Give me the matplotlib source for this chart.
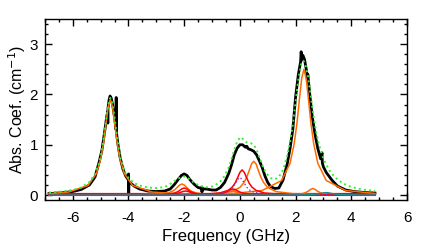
#!/usr/bin/env python
"""
Absorption spectrum with Lorentzian fit components
"""
import matplotlib
matplotlib.use('Agg')
import matplotlib.pyplot as plt
from matplotlib.ticker import MultipleLocator

# ---- measured spectrum (black) ----
black_x = [-6.85, -6.4, -6.0, -5.7, -5.4, -5.2, -5.05, -4.95, -4.85, -4.78,
           -4.745, -4.74, -4.735, -4.7, -4.66, -4.62, -4.57, -4.5, -4.445, -4.44,
           -4.435, -4.43, -4.38, -4.3, -4.2, -4.1, -4.0, -3.995, -3.99, -3.985,
           -3.8, -3.6, -3.3, -3.0, -2.7, -2.5, -2.35, -2.2, -2.1, -2.0,
           -1.9, -1.8, -1.65, -1.5, -1.37, -1.365, -1.36, -1.355, -1.2, -1.0,
           -0.85, -0.7, -0.55, -0.4, -0.3, -0.2, -0.1, 0.0, 0.1, 0.2,
           0.25, 0.3, 0.4, 0.5, 0.6, 0.7, 0.8, 0.9, 1.0, 1.1,
           1.25, 1.4, 1.55, 1.7, 1.8, 1.9, 2.0, 2.1, 2.18, 2.2,
           2.22, 2.26, 2.32, 2.4, 2.42, 2.44, 2.5, 2.6, 2.7, 2.8,
           2.9, 2.95, 2.96, 3.0, 3.1, 3.3, 3.5, 3.8, 4.1, 4.5,
           4.85]
black_y = [0.03, 0.045, 0.07, 0.11, 0.2, 0.36, 0.66, 0.9, 1.28, 1.56,
           1.66, 1.43, 1.72, 1.88, 1.97, 1.93, 1.8, 1.55, 1.3, 1.94,
           1.44, 1.24, 1.02, 0.75, 0.52, 0.38, 0.3, 0.42, 0.0, 0.27,
           0.18, 0.12, 0.08, 0.07, 0.08, 0.12, 0.21, 0.32, 0.39, 0.42,
           0.39, 0.31, 0.22, 0.15, 0.13, 0.16, 0.06, 0.12, 0.12, 0.1,
           0.1, 0.15, 0.25, 0.43, 0.6, 0.8, 0.93, 1.0, 1.0, 0.95,
           0.97, 0.92, 0.9, 0.87, 0.8, 0.68, 0.55, 0.38, 0.25, 0.17,
           0.13, 0.14, 0.3, 0.62, 0.92, 1.3, 1.95, 2.4, 2.65, 2.85,
           2.68, 2.78, 2.7, 2.45, 2.3, 2.4, 2.05, 1.55, 1.2, 0.92,
           0.72, 0.84, 0.64, 0.56, 0.45, 0.3, 0.18, 0.1, 0.07, 0.05,
           0.04]

# ---- total fit (green dotted) ----
fit_x = [-6.85, -6.4, -6.0, -5.7, -5.4, -5.2, -5.05, -4.95, -4.85, -4.78,
         -4.72, -4.65, -4.6, -4.55, -4.5, -4.44, -4.38, -4.3, -4.2, -4.1,
         -4.0, -3.8, -3.6, -3.3, -3.0, -2.7, -2.5, -2.35, -2.2, -2.1,
         -2.0, -1.9, -1.8, -1.65, -1.5, -1.3, -1.1, -0.9, -0.7, -0.55,
         -0.4, -0.3, -0.2, -0.1, 0.0, 0.05, 0.1, 0.2, 0.3, 0.4,
         0.5, 0.6, 0.7, 0.8, 0.9, 1.0, 1.1, 1.25, 1.4, 1.55,
         1.7, 1.8, 1.9, 2.0, 2.1, 2.2, 2.28, 2.35, 2.45, 2.55,
         2.65, 2.75, 2.85, 3.0, 3.2, 3.4, 3.7, 4.0, 4.4, 4.85]
fit_y = [0.05, 0.07, 0.1, 0.15, 0.26, 0.42, 0.64, 0.9, 1.28, 1.58,
         1.8, 1.93, 1.88, 1.75, 1.55, 1.28, 1.04, 0.78, 0.57, 0.43,
         0.34, 0.24, 0.19, 0.15, 0.14, 0.16, 0.22, 0.28, 0.33, 0.36,
         0.37, 0.35, 0.31, 0.25, 0.2, 0.16, 0.15, 0.19, 0.27, 0.38,
         0.55, 0.72, 0.9, 1.06, 1.14, 1.15, 1.12, 1.06, 1.03, 1.03,
         1.0, 0.9, 0.75, 0.6, 0.48, 0.4, 0.34, 0.31, 0.36, 0.5,
         0.78, 1.05, 1.4, 1.85, 2.3, 2.6, 2.67, 2.6, 2.35, 1.95,
         1.55, 1.22, 0.98, 0.72, 0.5, 0.36, 0.23, 0.16, 0.11, 0.08]

# ---- orange components ----
o1_x = [-6.85, -6.15, -5.45, -5.15, -5.0, -4.9, -4.8, -4.73, -4.65, -4.57,
        -4.5, -4.4, -4.3, -4.15, -3.85, -3.15, -2.15, -0.65, 4.85]
o1_y = [0.028, 0.06, 0.19, 0.43, 0.71, 1.02, 1.45, 1.75, 1.9, 1.75,
        1.45, 1.02, 0.71, 0.43, 0.19, 0.06, 0.022, 0.009, 0.002]
o2_x = [-6.85, -4.58, -3.58, -2.88, -2.58, -2.43, -2.33, -2.23, -2.16, -2.08,
        -2.0, -1.93, -1.83, -1.73, -1.58, -1.28, -0.58, 0.42, 4.85]
o2_y = [0.001, 0.002, 0.006, 0.02, 0.044, 0.074, 0.11, 0.162, 0.2, 0.22,
        0.2, 0.162, 0.11, 0.074, 0.044, 0.02, 0.006, 0.002, 0.0005]
o3_x = [-6.85, -2.0, -1.0, -0.3, 0.0, 0.15, 0.25, 0.35, 0.42, 0.5,
        0.58, 0.65, 0.75, 0.85, 1.0, 1.3, 2.0, 3.0, 4.85]
o3_y = [0.001, 0.008, 0.021, 0.068, 0.151, 0.25, 0.36, 0.51, 0.62, 0.67,
        0.62, 0.51, 0.36, 0.25, 0.151, 0.068, 0.021, 0.008, 0.003]
o4_x = [-6.85, -2.2, -0.2, 0.8, 1.5, 1.8, 1.95, 2.05, 2.15, 2.22,
        2.3, 2.38, 2.45, 2.55, 2.65, 2.8, 3.1, 3.8, 4.85]
o4_y = [0.005, 0.01, 0.033, 0.09, 0.29, 0.63, 1.02, 1.43, 1.97, 2.32,
        2.5, 2.32, 1.97, 1.43, 1.02, 0.63, 0.29, 0.09, 0.032]
o5_x = [-6.85, 1.12, 1.82, 2.12, 2.27, 2.37, 2.47, 2.54, 2.62, 2.7,
        2.77, 2.87, 2.97, 3.12, 3.42, 4.12, 4.85]
o5_y = [0.0, 0.002, 0.008, 0.018, 0.032, 0.051, 0.083, 0.112, 0.13, 0.112,
        0.083, 0.051, 0.032, 0.018, 0.008, 0.002, 0.001]
o6_x = [-6.85, -1.8, -1.1, -0.8, -0.65, -0.55, -0.45, -0.38, -0.3, -0.22,
        -0.15, -0.05, 0.05, 0.2, 0.5, 1.2, 4.85]
o6_y = [0.0, 0.003, 0.01, 0.021, 0.034, 0.047, 0.064, 0.075, 0.08, 0.075,
        0.064, 0.047, 0.034, 0.021, 0.01, 0.003, 0.0]

# ---- red components ----
r1_x = [-6.85, -2.42, -1.42, -0.72, -0.42, -0.27, -0.17, -0.07, 0.0, 0.08,
        0.16, 0.23, 0.33, 0.43, 0.58, 0.88, 1.58, 2.58, 4.85]
r1_y = [0.001, 0.005, 0.0125, 0.041, 0.094, 0.16, 0.24, 0.36, 0.45, 0.5,
        0.45, 0.36, 0.24, 0.16, 0.094, 0.041, 0.0125, 0.005, 0.001]
r2_x = [-6.85, -3.5, -2.8, -2.5, -2.35, -2.25, -2.15, -2.08, -2.0, -1.92,
        -1.85, -1.75, -1.65, -1.5, -1.2, -0.5, 4.85]
r2_y = [0.0, 0.003, 0.01, 0.023, 0.04, 0.061, 0.096, 0.124, 0.14, 0.124,
        0.096, 0.061, 0.04, 0.023, 0.01, 0.003, 0.0]
r3_x = [-6.85, -3.45, -2.75, -2.45, -2.3, -2.2, -2.1, -2.03, -1.95, -1.87,
        -1.8, -1.7, -1.6, -1.45, -1.15, -0.45, 4.85]
r3_y = [0.0, 0.002, 0.007, 0.016, 0.027, 0.04, 0.059, 0.073, 0.08, 0.073,
        0.059, 0.04, 0.027, 0.016, 0.007, 0.002, 0.0]
r4_x = [-6.85, -1.75, -1.05, -0.75, -0.6, -0.5, -0.4, -0.33, -0.25, -0.17,
        -0.1, 0.0, 0.1, 0.25, 0.55, 1.25, 4.85]
r4_y = [0.0, 0.003, 0.011, 0.024, 0.041, 0.06, 0.088, 0.109, 0.12, 0.109,
        0.088, 0.06, 0.041, 0.024, 0.011, 0.003, 0.0]

# ---- purple dotted and teal components ----
p_x = [-6.85, -1.5, -0.8, -0.5, -0.35, -0.25, -0.15, -0.08, 0.0, 0.08,
       0.15, 0.25, 0.35, 0.5, 0.8, 1.5, 4.85]
p_y = [0.0, 0.007, 0.025, 0.057, 0.099, 0.153, 0.24, 0.31, 0.35, 0.31,
       0.24, 0.153, 0.099, 0.057, 0.025, 0.007, 0.001]
t_x = [-6.85, 1.6, 2.3, 2.6, 2.75, 2.85, 2.95, 3.02, 3.1, 3.18,
       3.25, 3.35, 3.45, 3.6, 3.9, 4.6, 4.85]
t_y = [0.0, 0.0014, 0.0045, 0.01, 0.017, 0.025, 0.037, 0.045, 0.05, 0.045,
       0.037, 0.025, 0.017, 0.01, 0.0045, 0.0014, 0.001]

# baselines
base_x = [-6.85, 4.85]
red_base_y = [0.02, 0.02]
blue_base_y = [-0.005, -0.005]

x_ticks = [-6, -4, -2, 0, 2, 4, 6]
y_ticks = [0, 1, 2, 3]


def main():
    plt.rcParams['font.family'] = ['Liberation Sans', 'DejaVu Sans']
    plt.rcParams['axes.unicode_minus'] = False

    fig = plt.figure(figsize=(4.4, 2.44), dpi=100)
    ax = fig.add_axes([0.102, 0.18, 0.823, 0.742])

    orange = '#ff6a00'
    red = '#ff0000'

    ax.plot(black_x, black_y, color='black', linewidth=2.0, zorder=2)
    ax.plot(base_x, blue_base_y, color='#3344ff', linewidth=0.8, zorder=3)
    ax.plot(base_x, red_base_y, color=red, linewidth=1.6, zorder=3)

    for cx, cy in [(o1_x, o1_y), (o2_x, o2_y), (o3_x, o3_y),
                   (o4_x, o4_y), (o5_x, o5_y), (o6_x, o6_y)]:
        ax.plot(cx, cy, color=orange, linewidth=1.1, zorder=4)
    for cx, cy in [(r1_x, r1_y), (r2_x, r2_y), (r3_x, r3_y), (r4_x, r4_y)]:
        ax.plot(cx, cy, color=red, linewidth=1.1, zorder=4)
    ax.plot(p_x, p_y, color='#9933aa', linewidth=1.0, linestyle=':', zorder=4)
    ax.plot(t_x, t_y, color='#1a8c8c', linewidth=1.0, zorder=4)

    # total fit on top
    ax.plot(fit_x, fit_y, color='#33ee33', linewidth=1.4, linestyle=':', zorder=5)

    ax.set_xlim(-7, 6)
    ax.set_ylim(-0.1, 3.5)
    ax.set_xticks(x_ticks)
    ax.set_yticks(y_ticks)
    ax.xaxis.set_minor_locator(MultipleLocator(0.5))
    ax.yaxis.set_minor_locator(MultipleLocator(0.2))
    ax.tick_params(which='both', direction='in', top=True, right=True,
                   width=1.0, labelsize=11)
    ax.tick_params(axis='x', which='major', pad=8)
    ax.tick_params(axis='y', which='major', pad=5)
    ax.tick_params(which='major', length=5)
    ax.tick_params(which='minor', length=2.5)
    for spine in ax.spines.values():
        spine.set_linewidth(1.0)

    ax.set_xlabel('Frequency (GHz)', fontsize=12, labelpad=3)
    ax.set_ylabel('Abs. Coef. (cm$^{-1}$)', fontsize=11.5, labelpad=1)

    fig.savefig('out.png', dpi=100)
    plt.close(fig)


if __name__ == "__main__":
    main()
